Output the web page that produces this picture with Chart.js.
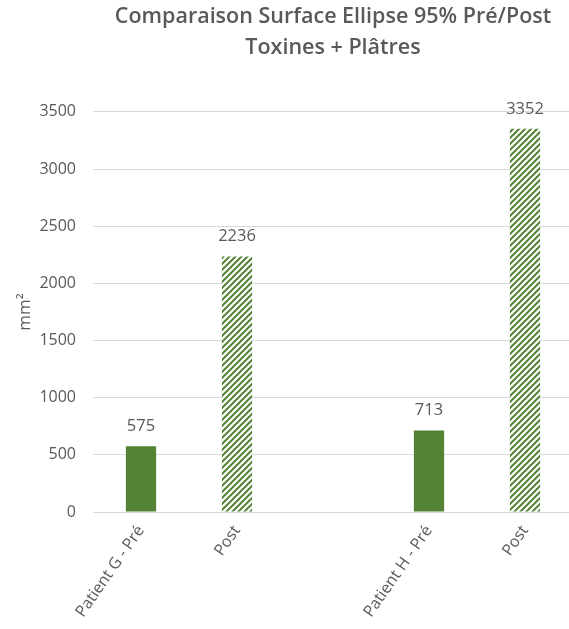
<!DOCTYPE html>
<html lang="fr">
<head>
<meta charset="utf-8">
<title>Comparaison Surface Ellipse 95%</title>
<script src="https://cdn.jsdelivr.net/npm/chart.js@4.4.1/dist/chart.umd.min.js"></script>
<style>
    html, body { margin: 0; padding: 0; background: #fff; overflow: hidden; }
</style>
</head>
<body>
<canvas id="surfaceChart" width="573" height="629"></canvas>
<script>
// Données (la catégorie vide sert d'espace entre les patients)
const categories = ['Patient G - Pré', 'Post', '', 'Patient H - Pré', 'Post'];
const surfaces = [575, 2236, null, 713, 3352];
const hachure = [false, true, false, false, true];
const yMin = 0;
const yMax = 3500;
const yStep = 500;

const vert = '#548235';
const gris = '#595959';
const police = '"Open Sans", Lato, sans-serif';

// Motif hachuré pour les barres "Post"
function creerHachure(couleur) {
    const taille = 6;
    const c = document.createElement('canvas');
    c.width = taille;
    c.height = taille;
    const g = c.getContext('2d');
    g.fillStyle = '#fff';
    g.fillRect(0, 0, taille, taille);
    g.strokeStyle = couleur;
    g.lineWidth = 2;
    g.beginPath();
    g.moveTo(-1, 1); g.lineTo(1, -1);
    g.moveTo(0, taille); g.lineTo(taille, 0);
    g.moveTo(taille - 1, taille + 1); g.lineTo(taille + 1, taille - 1);
    g.stroke();
    return g.createPattern(c, 'repeat');
}

const motif = creerHachure(vert);
const couleurs = hachure.map(h => h ? motif : vert);

// Étiquettes de valeur au-dessus des barres
const etiquettes = {
    id: 'etiquettes',
    afterDatasetsDraw(chart) {
        const ctx = chart.ctx;
        const meta = chart.getDatasetMeta(0);
        ctx.save();
        ctx.font = '16.5px ' + police;
        ctx.fillStyle = gris;
        ctx.textAlign = 'center';
        ctx.textBaseline = 'middle';
        meta.data.forEach((bar, i) => {
            if (surfaces[i] === null) return;
            ctx.fillText(String(surfaces[i]), bar.x, bar.y - 20);
        });
        ctx.restore();
    }
};

const ctx = document.getElementById('surfaceChart').getContext('2d');
new Chart(ctx, {
    type: 'bar',
    data: {
        labels: categories,
        datasets: [{
            data: surfaces,
            backgroundColor: couleurs,
            borderWidth: 0,
            categoryPercentage: 1,
            barPercentage: 0.315
        }]
    },
    options: {
        responsive: false,
        animation: false,
        layout: { padding: 0 },
        plugins: {
            legend: { display: false },
            tooltip: { enabled: false },
            title: {
                display: true,
                fullSize: false,
                text: ['Comparaison Surface Ellipse 95% Pré/Post', 'Toxines + Plâtres'],
                color: gris,
                font: { family: police, size: 21.5, weight: '600', lineHeight: 1.44 },
                padding: { top: 1, bottom: 49 }
            }
        },
        scales: {
            x: {
                grid: { display: false, drawTicks: false },
                border: { display: true, color: '#d9d9d9', width: 1 },
                ticks: {
                    color: gris,
                    font: { family: police, size: 16 },
                    minRotation: 55,
                    maxRotation: 55,
                    padding: 10
                },
                afterFit: (s) => { s.height = 117; }
            },
            y: {
                min: yMin,
                max: yMax,
                grid: { color: '#d9d9d9', drawTicks: false },
                border: { display: false },
                ticks: {
                    stepSize: yStep,
                    color: gris,
                    font: { family: police, size: 16 },
                    padding: 17,
                    callback: (v) => String(v)
                },
                title: {
                    display: true,
                    text: 'mm²',
                    color: gris,
                    font: { family: police, size: 17 },
                    padding: { top: 15 }
                },
                afterFit: (s) => { s.width = 93; }
            }
        }
    },
    plugins: [etiquettes]
});
</script>
</body>
</html>
